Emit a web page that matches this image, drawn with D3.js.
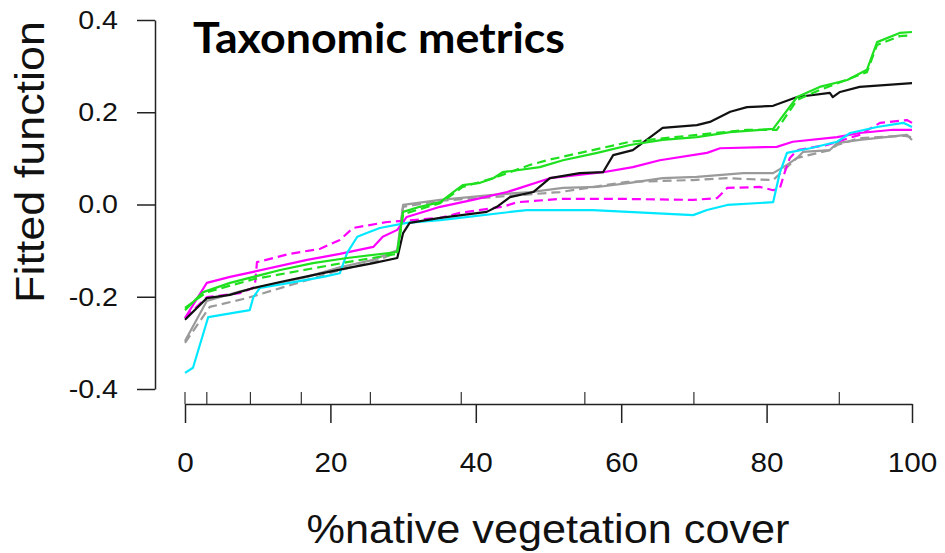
<!DOCTYPE html>
<html>
<head>
<meta charset="utf-8">
<script src="https://d3js.org/d3.v7.min.js"></script>
<style>
  body { margin: 0; background: #fff; }
</style>
</head>
<body>
<div id="my_dataviz"></div>
<script>
// fitted functions (x = % cover, y = fitted value)
var greenX = [0,2.5,6.2,9.4,13.1,17.6,22.3,29.2,30.0,32.3,35.1,36.9,38.2,40.6,42.4,43.7,48.8,52.0,56.7,61.2,65.7,70.4,75.0,80.9,84.2,87.3,91.1,93.8,95.2,98.3,100];
var greenY = [-0.229,-0.190,-0.170,-0.157,-0.142,-0.127,-0.116,-0.103,-0.016,-0.005,0.005,0.027,0.042,0.047,0.057,0.070,0.081,0.096,0.112,0.129,0.140,0.146,0.157,0.164,0.233,0.255,0.270,0.292,0.352,0.372,0.374];

var greenDashX = [0,3.0,9.4,22.3,29.2,30.0,35.1,38.2,42.4,47.5,49.8,61.2,70.4,77.3,81.4,84.2,87.3,93.8,95.2,98.3,100];
var greenDashY = [-0.224,-0.190,-0.162,-0.125,-0.107,-0.021,0.003,0.038,0.057,0.086,0.096,0.136,0.151,0.162,0.162,0.227,0.248,0.287,0.346,0.365,0.367];

var blackX = [0,3.0,6.2,9.4,13.1,17.6,22.3,25.9,29.2,30.0,30.9,35.1,41.5,42.9,44.7,47.9,50.2,54.3,57.5,58.9,61.6,63.5,65.7,70.4,72.2,75.0,77.3,80.9,84.2,88.7,89.1,90.1,92.8,100];
var blackY = [-0.250,-0.203,-0.196,-0.181,-0.168,-0.153,-0.138,-0.127,-0.116,-0.062,-0.040,-0.029,-0.016,-0.005,0.016,0.027,0.057,0.068,0.070,0.107,0.118,0.140,0.166,0.172,0.179,0.201,0.211,0.214,0.233,0.242,0.233,0.244,0.255,0.263];

var magentaX = [0,3.0,6.2,9.4,16.8,21.3,25.9,27.2,29.2,30.5,35.1,39.6,44.3,46.1,50.2,57.5,61.6,65.3,71.8,73.6,81.4,83.6,89.7,92.8,97.4,100];
var magentaY = [-0.246,-0.170,-0.157,-0.146,-0.120,-0.107,-0.092,-0.070,-0.055,-0.027,-0.005,0.010,0.027,0.036,0.057,0.070,0.081,0.096,0.112,0.122,0.125,0.136,0.146,0.155,0.162,0.162];

var magentaDashX = [0,3.0,7.6,9.6,9.9,14.4,18.6,21.3,23.1,27.8,35.1,37.8,43.7,45.7,51.6,60.8,69.9,73.2,74.6,79.1,80.9,81.8,82.5,83.2,84.2,88.3,90.5,92.8,95.6,99.3,100];
var magentaDashY = [-0.246,-0.201,-0.192,-0.179,-0.125,-0.107,-0.096,-0.077,-0.051,-0.038,-0.029,-0.018,-0.005,0.005,0.012,0.012,0.010,0.014,0.036,0.038,0.031,0.034,0.070,0.101,0.118,0.129,0.140,0.151,0.177,0.183,0.177];

var cyanX = [0,1.1,3.2,8.9,9.4,10.3,14.4,19.0,21.3,22.3,23.7,25.0,26.8,30.5,35.1,37.8,47.0,56.1,69.9,71.8,74.6,80.9,81.8,82.8,86.0,89.7,91.5,95.2,98.8,100];
var cyanY = [-0.365,-0.354,-0.244,-0.229,-0.201,-0.181,-0.170,-0.157,-0.149,-0.105,-0.070,-0.062,-0.051,-0.040,-0.034,-0.029,-0.012,-0.012,-0.023,-0.012,-0.001,0.005,0.068,0.112,0.122,0.136,0.155,0.168,0.177,0.168];

var grayX = [0,3.0,7.6,16.8,21.3,25.9,29.2,30.0,35.1,42.4,47.5,52.0,56.7,61.2,65.7,70.4,76.8,80.9,82.8,84.2,85.0,88.7,89.7,92.8,99.3,100];
var grayY = [-0.296,-0.209,-0.188,-0.157,-0.136,-0.120,-0.099,-0.001,0.010,0.021,0.027,0.036,0.038,0.047,0.057,0.060,0.068,0.068,0.086,0.101,0.114,0.118,0.133,0.140,0.151,0.140];

var grayDashX = [0,3.4,8.5,16.8,21.3,25.9,29.2,30.0,35.1,42.4,51.6,60.8,69.9,74.6,80.9,82.8,84.2,88.7,89.7,92.8,98.8,100];
var grayDashY = [-0.300,-0.222,-0.203,-0.164,-0.142,-0.125,-0.103,-0.005,0.008,0.016,0.027,0.049,0.053,0.057,0.053,0.081,0.101,0.118,0.129,0.144,0.149,0.146];

// rug marks along the x axis
var rugX = [0, 3, 9, 16, 25.5, 38, 55, 70, 90];

var xTicks = [0, 20, 40, 60, 80, 100];
var yTicks = [-0.4, -0.2, 0.0, 0.2, 0.4];

var series = [
  {x: grayDashX, y: grayDashY, color: "#9a9a9a", dash: "9,5"},
  {x: grayX, y: grayY, color: "#9a9a9a", dash: null},
  {x: magentaDashX, y: magentaDashY, color: "#ff00ff", dash: "9,5"},
  {x: magentaX, y: magentaY, color: "#ff00ff", dash: null},
  {x: cyanX, y: cyanY, color: "#00e8ff", dash: null},
  {x: blackX, y: blackY, color: "#111111", dash: null},
  {x: greenDashX, y: greenDashY, color: "#1ee01e", dash: "9,5"},
  {x: greenX, y: greenY, color: "#1ee01e", dash: null}
];

var width = 945, height = 553;

var svg = d3.select("#my_dataviz")
  .append("svg")
  .attr("width", width)
  .attr("height", height)
  .style("font-family", "'Liberation Sans', Arial, sans-serif");

var x = d3.scaleLinear().domain([0, 100]).range([185, 912]);
var y = d3.scaleLinear().domain([-0.4, 0.4]).range([389, 20]);

// the reference text is a little wider than the font, stretch it a bit
function widen(sel, k) {
  sel.each(function() {
    var w = this.getComputedTextLength();
    d3.select(this).attr("textLength", w * k).attr("lengthAdjust", "spacingAndGlyphs");
  });
}

// X axis, offset below the plot like R's default
var xAxis = svg.append("g")
  .attr("transform", "translate(0,404)")
  .call(d3.axisBottom(x).tickValues(xTicks).tickFormat(d3.format("d")).tickSize(19).tickSizeOuter(0).tickPadding(30));
xAxis.select(".domain").attr("stroke", "#222").attr("stroke-width", 1.5);
xAxis.selectAll(".tick line").attr("stroke", "#222").attr("stroke-width", 1.5);
xAxis.selectAll("text").style("font-size", "27px").attr("fill", "#111").call(widen, 1.1);

// rug
svg.append("g")
  .selectAll("line")
  .data(rugX)
  .enter()
  .append("line")
  .attr("x1", function(d) { return x(d); })
  .attr("x2", function(d) { return x(d); })
  .attr("y1", 392)
  .attr("y2", 404)
  .attr("stroke", "#333")
  .attr("stroke-width", 1.2);

// Y axis (plain hyphen for negatives, like R)
var yAxis = svg.append("g")
  .attr("transform", "translate(155,0)")
  .call(d3.axisLeft(y).tickValues(yTicks).tickFormat(function(d) { return d.toFixed(1); }).tickSize(18).tickSizeOuter(0).tickPadding(19));
yAxis.select(".domain").attr("stroke", "#222").attr("stroke-width", 1.5);
yAxis.selectAll(".tick line").attr("stroke", "#222").attr("stroke-width", 1.5);
yAxis.selectAll("text").style("font-size", "26px").attr("fill", "#111").call(widen, 1.1);

// lines
var line = d3.line()
  .x(function(d) { return x(d[0]); })
  .y(function(d) { return y(d[1]); });

series.forEach(function(s) {
  svg.append("path")
    .datum(d3.zip(s.x, s.y))
    .attr("fill", "none")
    .attr("stroke", s.color)
    .attr("stroke-width", 2.2)
    .attr("stroke-linejoin", "round")
    .attr("stroke-dasharray", s.dash)
    .attr("d", line);
});

// title
svg.append("text")
  .attr("x", 193)
  .attr("y", 53)
  .style("font-family", "Lato, 'Open Sans', sans-serif")
  .style("font-weight", "bold")
  .style("font-size", "42px")
  .attr("textLength", 372)
  .attr("lengthAdjust", "spacingAndGlyphs")
  .text("Taxonomic metrics");

// axis labels
svg.append("text")
  .attr("transform", "translate(44,162) rotate(-90)")
  .style("text-anchor", "middle")
  .style("font-size", "40px")
  .attr("fill", "#111")
  .attr("textLength", 282)
  .attr("lengthAdjust", "spacingAndGlyphs")
  .text("Fitted function");

svg.append("text")
  .attr("x", 548)
  .attr("y", 543)
  .style("text-anchor", "middle")
  .style("font-size", "40px")
  .attr("fill", "#111")
  .attr("textLength", 483)
  .attr("lengthAdjust", "spacingAndGlyphs")
  .text("%native vegetation cover");
</script>
</body>
</html>
